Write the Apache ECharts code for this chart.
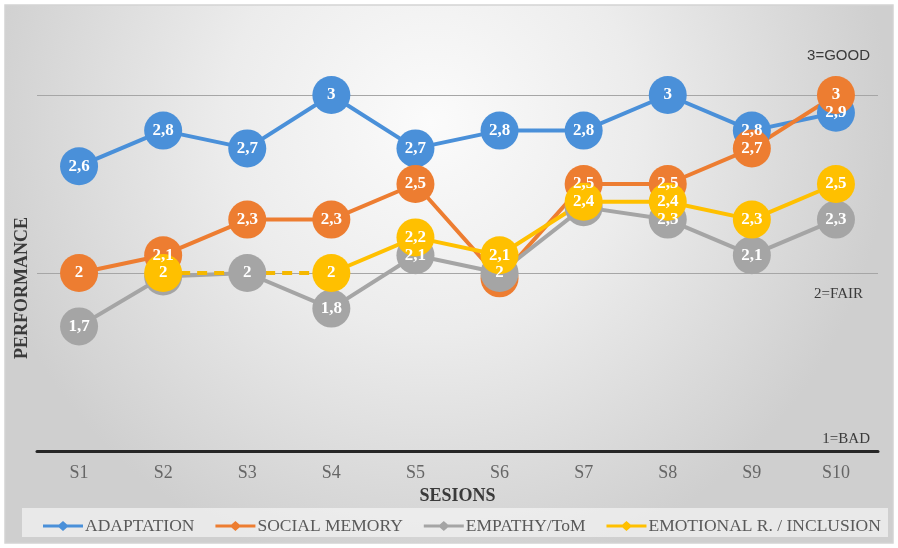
<!DOCTYPE html>
<html>
<head>
<meta charset="utf-8">
<script src="https://cdn.jsdelivr.net/npm/echarts@6/dist/echarts.min.js"></script>
<style>
  html, body { margin: 0; padding: 0; background: #ffffff; }
  #chart { width: 898px; height: 548px; }
</style>
</head>
<body>
<div id="chart"></div>
<script>
// Sessions on the x axis
const sessions = ['S1', 'S2', 'S3', 'S4', 'S5', 'S6', 'S7', 'S8', 'S9', 'S10'];

// Performance score per session (1 = bad, 2 = fair, 3 = good)
const adaptation   = [2.6, 2.8, 2.7, 3, 2.7, 2.8, 2.8, 3, 2.8, 2.9];
const socialMemory = [2, 2.1, 2.3, 2.3, 2.5, 1.97, 2.5, 2.5, 2.7, 3];
const empathyToM   = [1.7, 1.98, 2, 1.8, 2.1, 2, 2.37, 2.3, 2.1, 2.3];
const emotionalInc = [null, 2, null, 2, 2.2, 2.1, 2.4, 2.4, 2.3, 2.5];

// Points whose labels sit under another series' marker
const socialMemoryHidden = [5];
const empathyHidden = [1, 6];

const seriesNames = ['ADAPTATION', 'SOCIAL MEMORY', 'EMPATHY/ToM', 'EMOTIONAL R. / INCLUSION'];
const colors = ['#4a90d9', '#ed7d31', '#a5a5a5', '#ffc000'];

function withHiddenLabels(values, hidden) {
  return values.map((v, i) => hidden.indexOf(i) >= 0 ? { value: v, label: { show: false } } : v);
}

// Dashed bridge across missing points of a series
function gapBridge(values) {
  const out = values.map(() => null);
  for (let i = 1; i < values.length - 1; i++) {
    if (values[i] == null && values[i - 1] != null) {
      let j = i + 1;
      while (j < values.length && values[j] == null) j++;
      if (j < values.length) { out[i - 1] = values[i - 1]; out[j] = values[j]; }
    }
  }
  return out;
}

const fmt = p => String(p.value).replace('.', ',');
const serif = 'Liberation Serif';

function lineSeries(name, data, color) {
  return {
    name: name,
    type: 'line',
    data: data,
    symbol: 'circle',
    symbolSize: 38,
    clip: false,
    lineStyle: { color: color, width: 4 },
    itemStyle: { color: color },
    label: {
      show: true, position: 'inside', formatter: fmt,
      color: '#ffffff', fontFamily: serif, fontWeight: 'bold', fontSize: 17
    },
    emphasis: { disabled: true }
  };
}

const chart = echarts.init(document.getElementById('chart'), null, { renderer: 'canvas' });

const legendIcon = 'path://M0,3.5L16,3.5L20,0L24,3.5L40,3.5L40,6.5L24,6.5L20,10L16,6.5L0,6.5Z';

chart.setOption({
  animation: false,
  backgroundColor: '#ffffff',
  color: colors,
  graphic: [
    {
      type: 'rect', z: -10, silent: true,
      shape: { x: 5, y: 5, width: 888, height: 538 },
      style: {
        fill: {
          type: 'radial', x: 0.48, y: 0.22, r: 0.85,
          colorStops: [
            { offset: 0, color: '#fbfbfb' },
            { offset: 0.45, color: '#ececec' },
            { offset: 1, color: '#cfcfcf' }
          ]
        },
        stroke: '#d4d4d4', lineWidth: 1.5
      }
    },
    {
      type: 'rect', z: -9, silent: true,
      shape: { x: 22, y: 508, width: 866, height: 29 },
      style: { fill: 'rgba(250,250,250,0.6)' }
    },
    {
      type: 'text', left: 13, top: 217, rotation: Math.PI / 2, silent: true,
      style: { text: 'PERFORMANCE', fill: '#3a3a3a', font: 'bold 18px "Liberation Serif"' }
    },
    {
      type: 'text', right: 28, top: 48, silent: true,
      style: { text: '3=GOOD', fill: '#3a3a3a', font: '15px "Liberation Sans Narrow", "Liberation Sans"' }
    },
    {
      type: 'text', right: 35, top: 287, silent: true,
      style: { text: '2=FAIR', fill: '#3a3a3a', font: '15px "Liberation Serif"' }
    },
    {
      type: 'text', right: 28, top: 432, silent: true,
      style: { text: '1=BAD', fill: '#3a3a3a', font: '15px "Liberation Serif"' }
    }
  ],
  legend: {
    data: seriesNames,
    left: 38, top: 512,
    icon: legendIcon,
    itemWidth: 42, itemHeight: 10, itemGap: 21,
    textStyle: { color: '#595959', fontFamily: serif, fontSize: 17.5, padding: [0, 0, 0, -4] }
  },
  grid: { left: 37, right: 20, top: 95, bottom: 97 },
  xAxis: {
    type: 'category',
    data: sessions,
    boundaryGap: true,
    name: 'SESIONS',
    nameLocation: 'middle',
    nameGap: 34,
    nameTextStyle: { color: '#3a3a3a', fontFamily: serif, fontWeight: 'bold', fontSize: 18 },
    axisLine: { show: true, lineStyle: { color: '#262626', width: 3 } },
    axisTick: { show: false },
    axisLabel: { color: '#666666', fontFamily: serif, fontSize: 18, margin: 13 },
    splitLine: { show: false }
  },
  yAxis: {
    type: 'value',
    min: 1, max: 3, interval: 1,
    axisLine: { show: false },
    axisTick: { show: false },
    axisLabel: { show: false },
    splitLine: { show: true, lineStyle: { color: '#a6a6a6', width: 1.2 } }
  },
  series: [
    lineSeries(seriesNames[0], adaptation, colors[0]),
    lineSeries(seriesNames[1], withHiddenLabels(socialMemory, socialMemoryHidden), colors[1]),
    lineSeries(seriesNames[2], withHiddenLabels(empathyToM, empathyHidden), colors[2]),
    {
      name: 'bridge',
      type: 'line',
      data: gapBridge(emotionalInc),
      connectNulls: true,
      symbol: 'none',
      silent: true,
      lineStyle: { color: '#f5b800', width: 4, type: [10, 7] },
      emphasis: { disabled: true }
    },
    lineSeries(seriesNames[3], emotionalInc, colors[3])
  ]
});
</script>
</body>
</html>
